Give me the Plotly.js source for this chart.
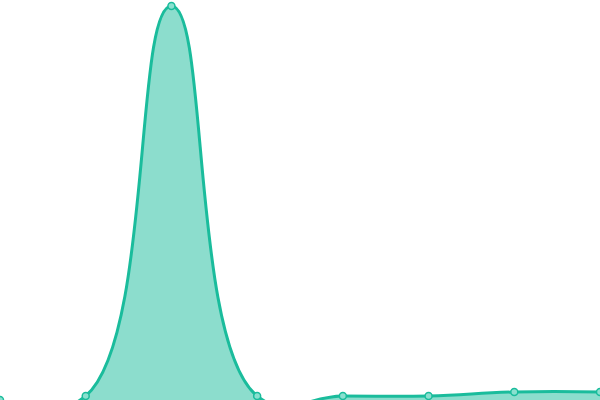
<!DOCTYPE html>
<html>
<head>
<meta charset="utf-8">
<script src="https://cdn.plot.ly/plotly-3.0.1.min.js"></script>
<style>
  html, body { margin: 0; padding: 0; background: #fff; }
  #plot { width: 600px; height: 400px; }
</style>
</head>
<body>
<div id="plot"></div>
<script>
var xs = [0, 1, 2, 3, 4, 5, 6, 7];
var values = [0, 1, 98.5, 1, 1, 1, 2, 2];

var trace = {
    x: xs,
    y: values,
    type: 'scatter',
    mode: 'lines+markers',
    fill: 'tozeroy',
    fillcolor: 'rgba(26,188,156,0.5)',
    line: { color: '#1abc9c', width: 3, shape: 'spline', smoothing: 1.3 },
    marker: { size: 7, color: '#8ae0cf', line: { color: '#1abc9c', width: 1.5 } },
    hoverinfo: 'none'
};

var layout = {
    width: 600,
    height: 400,
    margin: { l: 0, r: 0, t: 0, b: 0 },
    paper_bgcolor: '#fff',
    plot_bgcolor: '#fff',
    showlegend: false,
    xaxis: { visible: false, range: [0, 7], fixedrange: true },
    yaxis: { visible: false, range: [0, 100], fixedrange: true }
};

Plotly.newPlot('plot', [trace], layout, { displayModeBar: false, staticPlot: true });
</script>
</body>
</html>
